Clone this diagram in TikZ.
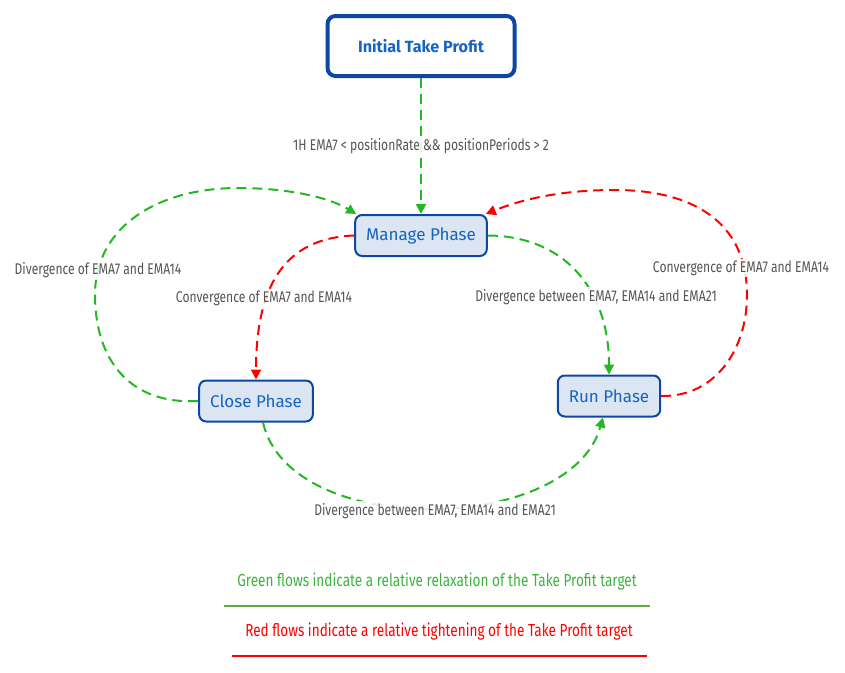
\documentclass[tikz,border=0pt]{standalone}
\usepackage{xcolor}
\usepackage{fontspec}
\usepackage{tikz}
\usetikzlibrary{arrows.meta,positioning}
\setmainfont{Fira Sans}
\newfontfamily\narrowfont[FakeStretch=0.78]{Fira Sans}

\definecolor{boxblue}{HTML}{0D47A1}
\definecolor{textblue}{HTML}{1565C0}
\definecolor{boxfill}{HTML}{DCE6F2}
\definecolor{flowgreen}{HTML}{22B822}
\definecolor{flowred}{HTML}{FF0000}
\definecolor{labelgray}{HTML}{555555}
\definecolor{legendgreen}{HTML}{3CB43C}
\definecolor{linegreen}{HTML}{5CB03C}

\begin{document}
\begin{tikzpicture}[
  x=1pt, y=-1pt,
  node distance=136pt,
  start/.style={draw=boxblue, line width=4pt, rounded corners=8pt, minimum width=187pt, minimum height=60pt, text=textblue, font=\fontsize{16.2}{19}\selectfont\bfseries},
  phase/.style={draw=boxblue, fill=boxfill, line width=2pt, rounded corners=7pt, minimum height=41pt, inner xsep=11pt, text=textblue, font=\fontsize{17}{20}\selectfont},
  gflow/.style={draw=flowgreen, line width=2pt, dash pattern=on 10pt off 6pt, -{Triangle[length=10pt,width=10pt]}},
  rflow/.style={gflow, draw=flowred},
  lbl/.style={fill=white, fill opacity=0.85, text opacity=1, text=labelgray, inner sep=2pt, font=\narrowfont\fontsize{15.5}{18}\selectfont},
  legend/.style={font=\narrowfont\fontsize{17.4}{20}\selectfont}
]
  \useasboundingbox (0,0) rectangle (845,672);

  \node[start] (init) at (421,46) {Initial Take Profit};
  \node[phase, below=of init] (manage) {Manage Phase};
  \node[phase] (close) at (256,401) {Close Phase};
  \node[phase] (run) at (609,396) {Run Phase};

  \draw[gflow] (init) -- node[lbl] (cond) {1H EMA7 < positionRate \&\& positionPeriods > 2} (manage);

  % loops round the left and the right side
  \draw[gflow] (close.west) .. controls (130,405) and (95,360) .. (95,295)
    .. controls (95,225) and (160,188) .. (238,188)
    .. controls (290,188) and (330,198) .. ([xshift=2pt]manage.north west);
  \draw[rflow] (run.east) .. controls (715,397) and (747,350) .. (747,295)
    .. controls (747,220) and (690,190) .. (615,190)
    .. controls (565,190) and (525,198) .. ([xshift=-2pt]manage.north east);

  \draw[rflow] (manage.west) .. controls (285,238) and (256,285) .. (close.north);
  \draw[gflow] (manage.east) .. controls (565,236) and (609,290) .. (run.north);
  \draw[gflow] ([xshift=7pt]close.south) .. controls (290,540) and (570,535) .. ([xshift=-6pt]run.south);

  \node[lbl] (divL) at (98,270) {Divergence of EMA7 and EMA14};
  \node[lbl] (convL) at (264,298) {Convergence of EMA7 and EMA14};
  \node[lbl] (divR) at (596,297) {Divergence between EMA7, EMA14 and EMA21};
  \node[lbl] (convR) at (741,268) {Convergence of EMA7 and EMA14};
  \node[lbl] (divB) at (435,511) {Divergence between EMA7, EMA14 and EMA21};

  % legend
  \node[legend, text=legendgreen] (legG) at (437,582) {Green flows indicate a relative relaxation of the Take Profit target};
  \draw[linegreen, line width=2pt] (224,606) -- (650,606);
  \node[legend, text=flowred] (legR) at (439,632) {Red flows indicate a relative tightening of the Take Profit target};
  \draw[flowred, line width=2pt] (232,656) -- (647,656);
\end{tikzpicture}
\end{document}
